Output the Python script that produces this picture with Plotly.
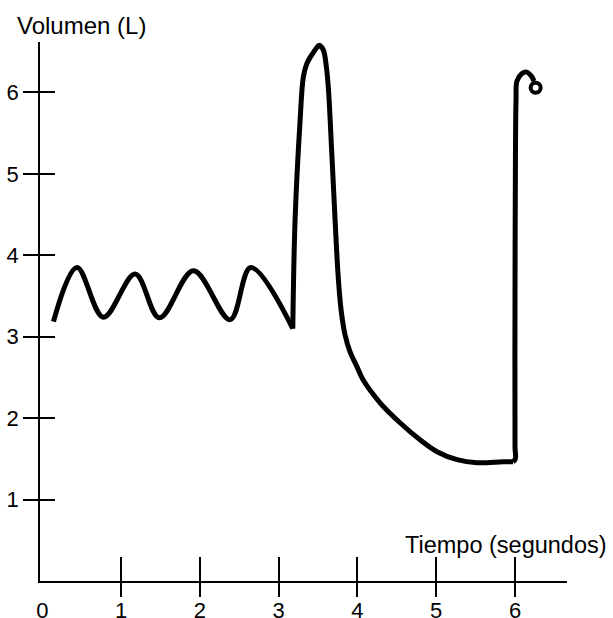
import plotly.graph_objects as go

# ---- data (time in seconds, volume in litres) ----
osc_t = [0.141, 0.438, 0.775, 1.178, 1.486, 1.918, 2.383, 2.646, 3.179]
osc_v = [3.186, 3.850, 3.240, 3.770, 3.232, 3.810, 3.210, 3.850, 3.100]

peak_t = [3.179, 3.208, 3.272, 3.313, 3.356, 3.398, 3.440, 3.475, 3.516, 3.567,
          3.602, 3.631, 3.674, 3.716, 3.754, 3.792, 3.843, 3.906, 3.995, 4.071,
          4.287, 4.540, 4.794, 5.010, 5.264, 5.518, 5.848, 5.975]
peak_v = [3.100, 4.433, 5.659, 6.190, 6.350, 6.430, 6.490, 6.540, 6.580, 6.520,
          6.340, 6.050, 5.254, 4.433, 3.759, 3.330, 3.022, 2.814, 2.630, 2.471,
          2.189, 1.944, 1.735, 1.588, 1.490, 1.453, 1.465, 1.465]

rise_t = [5.975, 6.004, 6.000, 6.000, 6.006, 6.013, 6.025, 6.085, 6.148, 6.212, 6.241]
rise_v = [1.465, 1.500, 1.653, 3.452, 5.291, 5.904, 6.140, 6.230, 6.250, 6.195, 6.140]

end_t = [6.262]
end_v = [6.058]

x_ticks = [0, 1, 2, 3, 4, 5, 6]
x_marks = [1, 2, 3, 4, 5, 6]
y_ticks = [1, 2, 3, 4, 5, 6]

X_RANGE = [-0.03, 6.66]
Y_RANGE = [0, 6.62]

LW = 5
fig = go.Figure()
for tt, vv in [(osc_t, osc_v), (peak_t, peak_v), (rise_t, rise_v)]:
    fig.add_trace(go.Scatter(x=tt, y=vv, mode="lines",
                             line=dict(color="black", width=LW, shape="spline", smoothing=1.0),
                             hoverinfo="skip", showlegend=False))
fig.add_trace(go.Scatter(x=end_t, y=end_v, mode="markers",
                         marker=dict(symbol="circle-open", size=10, color="black",
                                     line=dict(width=4, color="black")),
                         cliponaxis=False, hoverinfo="skip", showlegend=False))
# invisible anchors for overlay tick axes
fig.add_trace(go.Scatter(x=[3], y=[3], xaxis="x2", yaxis="y2", mode="markers",
                         marker=dict(opacity=0), hoverinfo="skip", showlegend=False))
fig.add_trace(go.Scatter(x=[3], y=[3], xaxis="x3", yaxis="y2", mode="markers",
                         marker=dict(opacity=0), hoverinfo="skip", showlegend=False))

FONT = dict(family="Liberation Sans, Arial, Helvetica, sans-serif", color="black")
TICKFONT = dict(FONT, size=22)

common = dict(showgrid=False, zeroline=False, fixedrange=True, automargin=False)

fig.update_layout(
    width=613, height=618,
    margin=dict(l=40, r=46, t=42, b=36.5, pad=0, autoexpand=False),
    paper_bgcolor="white", plot_bgcolor="white",
    showlegend=False,
    xaxis=dict(range=X_RANGE, tickmode="array", tickvals=x_ticks,
               ticktext=[str(v) for v in x_ticks],
               ticks="outside", ticklen=9, tickcolor="rgba(0,0,0,0)",
               showline=True, linecolor="black", linewidth=1.5,
               tickfont=TICKFONT, **common),
    xaxis2=dict(range=X_RANGE, overlaying="x", anchor="y", side="bottom",
                tickmode="array", tickvals=x_marks, ticks="outside", ticklen=15,
                tickwidth=1.5, tickcolor="black", showticklabels=False,
                showline=False, **common),
    xaxis3=dict(range=X_RANGE, overlaying="x", anchor="y", side="bottom",
                tickmode="array", tickvals=x_marks, ticks="inside", ticklen=24,
                tickwidth=1.5, tickcolor="black", showticklabels=False,
                showline=False, **common),
    yaxis=dict(range=Y_RANGE, tickmode="array", tickvals=y_ticks,
               ticktext=[str(v) for v in y_ticks],
               ticks="outside", ticklen=15, tickwidth=1.5, tickcolor="black",
               showline=True, linecolor="black", linewidth=1.5,
               tickfont=TICKFONT, **common),
    yaxis2=dict(range=Y_RANGE, overlaying="y", anchor="x", side="left",
                tickmode="array", tickvals=y_ticks, ticks="inside", ticklen=15,
                tickwidth=1.5, tickcolor="black", showticklabels=False,
                showline=False, **common),
    annotations=[
        dict(text="Volumen (L)", xref="paper", yref="paper", x=-0.0474, y=1.0315,
             xanchor="left", yanchor="middle", showarrow=False,
             font=dict(FONT, size=24)),
        dict(text="Tiempo (segundos)", xref="paper", yref="paper", x=1.0797, y=0.066,
             xanchor="right", yanchor="middle", showarrow=False,
             font=dict(FONT, size=23.5)),
    ],
)

fig.write_html("out.html", config={"displayModeBar": False},
               post_script="document.body.style.margin='0';document.body.style.overflow='hidden';")
